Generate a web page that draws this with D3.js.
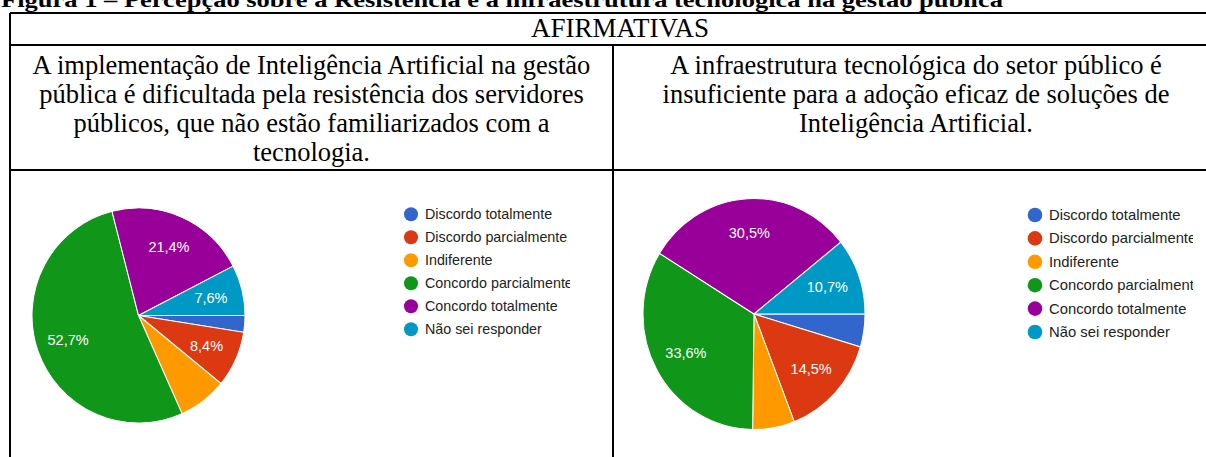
<!DOCTYPE html>
<html>
<head>
<meta charset="utf-8">
<script src="https://cdn.jsdelivr.net/npm/d3@7"></script>
<style>
  html, body { margin: 0; padding: 0; background: #fff; }
</style>
</head>
<body>
<div id="chart"></div>
<script>
// data
const categories = [
  "Discordo totalmente",
  "Discordo parcialmente",
  "Indiferente",
  "Concordo parcialmente",
  "Concordo totalmente",
  "Não sei responder",
];
const colors = ["#3366cc", "#dc3912", "#ff9900", "#109618", "#990099", "#0099c6"];

const resistenciaValues = [2.5, 8.4, 7.4, 52.7, 21.4, 7.6];
const infraestruturaValues = [4.6, 14.5, 6.1, 33.6, 30.5, 10.7];

const titleText = "Figura 1 – Percepção sobre a Resistência e a infraestrutura tecnológica na gestão pública";
const headerText = "AFIRMATIVAS";
const leftLines = [
  "A implementação de Inteligência Artificial na gestão",
  "pública é dificultada pela resistência dos servidores",
  "públicos, que não estão familiarizados com a",
  "tecnologia.",
];
const rightLines = [
  "A infraestrutura tecnológica do setor público é",
  "insuficiente para a adoção eficaz de soluções de",
  "Inteligência Artificial.",
];

const W = 1206, H = 457;
const svg = d3.select("#chart").append("svg").attr("width", W).attr("height", H);
svg.append("rect").attr("width", W).attr("height", H).attr("fill", "#fff");

const serif = "Liberation Serif, Times New Roman, serif";
const sans = "Liberation Sans, Arial, sans-serif";

// title (cut at top of page)
svg.append("text")
  .attr("x", 1)
  .attr("y", 7)
  .attr("font-family", serif)
  .attr("font-weight", "bold")
  .attr("font-size", "21px")
  .attr("textLength", 1002)
  .attr("lengthAdjust", "spacingAndGlyphs")
  .attr("fill", "#000")
  .text(titleText);

// table grid
const tableLeft = 10, tableMid = 613, tableRight = 1218;
const rowTop = 13, rowHead = 45, rowText = 170, tableBottom = 470;
const lines = svg.append("g").attr("stroke", "#000").attr("stroke-width", 2);
[rowTop, rowHead, rowText].forEach((y) => {
  lines.append("line").attr("x1", tableLeft).attr("x2", tableRight).attr("y1", y).attr("y2", y);
});
lines.append("line").attr("x1", tableLeft).attr("x2", tableLeft).attr("y1", rowTop).attr("y2", tableBottom);
lines.append("line").attr("x1", tableMid).attr("x2", tableMid).attr("y1", rowHead).attr("y2", tableBottom);
lines.append("line").attr("x1", tableRight).attr("x2", tableRight).attr("y1", rowTop).attr("y2", tableBottom);

svg.append("text")
  .attr("x", 620)
  .attr("y", 37)
  .attr("text-anchor", "middle")
  .attr("font-family", serif)
  .attr("font-size", "27px")
  .text(headerText);

function columnText(lineArr, cx) {
  svg.append("g")
    .selectAll("text")
    .data(lineArr)
    .enter()
    .append("text")
    .attr("x", cx)
    .attr("y", (d, i) => 74 + i * 29)
    .attr("text-anchor", "middle")
    .attr("font-family", serif)
    .attr("font-size", "26.5px")
    .attr("fill", "#000")
    .text((d) => d);
}
columnText(leftLines, 311.5);
columnText(rightLines, 916);

// pie + legend
const pie = d3.pie().sort(null).value((d) => d).startAngle(Math.PI / 2).endAngle(Math.PI / 2 + 2 * Math.PI);

function drawPie(id, values, cfg) {
  const slices = pie(values);
  const arc = d3.arc().innerRadius(0).outerRadius(cfg.rx);
  const labelArc = d3.arc().innerRadius(cfg.rx * 0.7).outerRadius(cfg.rx * 0.7);
  const sy = cfg.ry / cfg.rx;

  svg.append("g")
    .attr("transform", `translate(${cfg.cx},${cfg.cy}) scale(1,${sy})`)
    .selectAll("path")
    .data(slices)
    .enter()
    .append("path")
    .attr("d", arc)
    .attr("fill", (d, i) => colors[i])
    .attr("stroke", "#fff")
    .attr("stroke-width", 1);

  svg.append("g")
    .selectAll("text")
    .data(slices.filter((d) => d.value >= 7.5))
    .enter()
    .append("text")
    .attr("x", (d) => cfg.cx + labelArc.centroid(d)[0])
    .attr("y", (d) => cfg.cy + labelArc.centroid(d)[1] * sy)
    .attr("text-anchor", "middle")
    .attr("dominant-baseline", "central")
    .attr("font-family", sans)
    .attr("font-size", cfg.labelSize + "px")
    .attr("fill", "#fff")
    .text((d) => d3.format(".1f")(d.value).replace(".", ",") + "%");

  // legend, clipped where the pasted image ends
  svg.append("clipPath").attr("id", id)
    .append("rect").attr("x", cfg.legX - 15).attr("y", 190).attr("width", cfg.clipRight - cfg.legX + 15).attr("height", 170);

  const leg = svg.append("g").attr("clip-path", `url(#${id})`)
    .selectAll(".legItem")
    .data(categories)
    .enter()
    .append("g")
    .attr("class", "legItem")
    .attr("transform", (d, i) => `translate(${cfg.legX},${cfg.legY + i * cfg.legStep})`);

  leg.append("circle").attr("r", cfg.dotR).attr("fill", (d, i) => colors[i]);
  leg.append("text")
    .attr("x", cfg.textDx)
    .attr("y", 0)
    .attr("dominant-baseline", "central")
    .attr("font-family", sans)
    .attr("font-size", cfg.legSize + "px")
    .attr("fill", "#222")
    .text((d) => d);
}

drawPie("clipLeft", resistenciaValues, {
  cx: 138.5, cy: 315.5, rx: 106.5, ry: 107.5, labelSize: 14.5,
  legX: 411, legY: 214.3, legStep: 23, dotR: 7, textDx: 14, legSize: 14.3, clipRight: 570,
});
drawPie("clipRight", infraestruturaValues, {
  cx: 754, cy: 314, rx: 111, ry: 115.5, labelSize: 14.5,
  legX: 1035, legY: 215, legStep: 23.4, dotR: 7.3, textDx: 14, legSize: 14.8, clipRight: 1193,
});
</script>
</body>
</html>
